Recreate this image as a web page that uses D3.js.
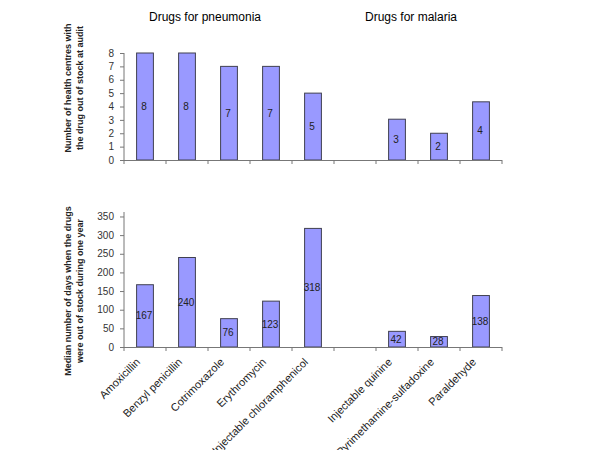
<!DOCTYPE html>
<html><head><meta charset="utf-8">
<script src="https://cdn.jsdelivr.net/npm/d3@7"></script>
<style>body{margin:0;background:#fff;} svg{display:block;font-family:Arial,"Liberation Sans",sans-serif;}</style>
</head><body>
<svg id="c" width="600" height="450"></svg>
<script>
const categories = ["Amoxicillin","Benzyl penicillin","Cotrimoxazole","Erythromycin","Injectable  chloramphenicol","","Injectable quinine","Pyrimethamine-sulfadoxine","Paraldehyde"];
const groupTitles = ["Drugs for pneumonia","Drugs for malaria"];
const topValues = [8,8,7,7,5,null,3.05,2,4.35];
const topLabels = ["8","8","7","7","5","","3","2","4"];
const bottomValues = [167,240,76,123,318,null,42,28,138];
const bottomLabels = ["167","240","76","123","318","","42","28","138"];
const topTicks = [0,1,2,3,4,5,6,7,8];
const bottomTicks = [0,50,100,150,200,250,300,350];
const topTitle = ["Number of health centres with","the  drug out of stock at audit"];
const bottomTitle = ["Median number of days when the drugs","were out of stock  during one year"];

const svg = d3.select("#c");
const x = d3.scaleBand().domain(d3.range(categories.length)).range([124,502]).paddingInner(0.6).paddingOuter(0.3);
const bounds = d3.range(categories.length+1).map(i => i < categories.length ? x(i) - x.step()*0.3 : x(i-1) + x.bandwidth() + x.step()*0.3);

// group titles
const gx = [ (bounds[0]+bounds[5])/2 - 24, (bounds[6]+bounds[9])/2 - 28 ];
svg.selectAll("text.gt").data(groupTitles).join("text").attr("class","gt")
  .attr("x",(d,i)=>gx[i]).attr("y",21).attr("text-anchor","middle").attr("font-size",12).attr("fill","#000").text(d=>d);

function panel(values, labels, ticks, domainMax, y0, y1, title, titleCy){
  const y = d3.scaleLinear().domain([0,domainMax]).range([y0,y1]);
  const g = svg.append("g");
  g.selectAll("rect").data(values.map((v,i)=>({v,i})).filter(d=>d.v!=null)).join("rect")
    .attr("x",d=>x(d.i)).attr("width",x.bandwidth())
    .attr("y",d=>y(d.v)).attr("height",d=>y(0)-y(d.v))
    .attr("fill","#9999ff").attr("stroke","#404050").attr("stroke-width",1);
  g.selectAll("text.v").data(values.map((v,i)=>({v,i,l:labels[i]})).filter(d=>d.v!=null)).join("text").attr("class","v")
    .attr("x",d=>x(d.i)+x.bandwidth()/2-1).attr("y",d=>(y(d.v)+y(0))/2+3.5)
    .attr("text-anchor","middle").attr("font-size",10).attr("fill","#222").text(d=>d.l);
  const ya = d3.axisLeft(y).tickValues(ticks).tickSize(4).tickSizeOuter(0).tickPadding(6);
  const yg = g.append("g").attr("transform",`translate(${bounds[0]},0)`).call(ya);
  yg.select(".domain").attr("stroke","#777").attr("d",`M0,${y(domainMax)}V${y(0)}`);
  yg.selectAll(".tick line").attr("stroke","#777");
  yg.selectAll(".tick text").attr("font-size",10).attr("fill","#333").attr("font-family","Arial,'Liberation Sans',sans-serif");
  g.append("line").attr("x1",bounds[0]).attr("x2",bounds[bounds.length-1]).attr("y1",y(0)+0.5).attr("y2",y(0)+0.5).attr("stroke","#777");
  g.selectAll("line.xt").data(bounds).join("line").attr("class","xt")
    .attr("x1",d=>d).attr("x2",d=>d).attr("y1",y(0)).attr("y2",y(0)+4).attr("stroke","#777");
  const t = g.append("text").attr("transform",`translate(71,${titleCy}) rotate(-90)`)
    .attr("text-anchor","middle").attr("font-size",9).attr("font-weight","bold").attr("fill","#222");
  t.selectAll("tspan").data(title).join("tspan").attr("x",0).attr("dy",(d,i)=>i===0?0:12).text(d=>d);
  return y;
}

panel(topValues, topLabels, topTicks, 8, 160, 53, topTitle, 88);
const yb = panel(bottomValues, bottomLabels, bottomTicks, 362, 347, 212, bottomTitle, 291);

svg.selectAll("text.cat").data(categories.map((c,i)=>({c,i})).filter(d=>d.c!=="")).join("text").attr("class","cat")
  .attr("transform",d=>`translate(${x(d.i)+x.bandwidth()/2-7},${yb(0)+13}) rotate(-45)`)
  .attr("text-anchor","end").attr("dy","0.35em").attr("font-size",11).attr("fill","#222").text(d=>d.c);
</script>
</body></html>
